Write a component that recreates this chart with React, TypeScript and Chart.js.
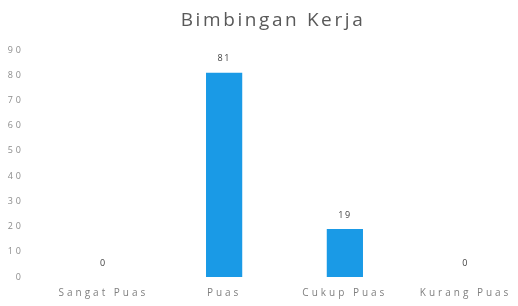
import React, { useEffect, useRef } from "react";
import { Chart, registerables } from "chart.js";

Chart.register(...registerables);

const chartTitle = "Bimbingan Kerja";
const categories = ["Sangat Puas", "Puas", "Cukup Puas", "Kurang Puas"];
const values = [0, 81, 19, 0];
const yMin = 0;
const yMax = 90;
const yStep = 10;

const titlePlugin = {
  id: "customTitle",
  beforeDraw(chart: any) {
    const ctx = chart.ctx;
    ctx.letterSpacing = "3px";
  },
  afterDraw(chart: any) {
    const ctx = chart.ctx;
    ctx.save();
    ctx.letterSpacing = "2.6px";
    ctx.font = "19px 'Open Sans'";
    ctx.fillStyle = "#595959";
    ctx.textAlign = "center";
    ctx.textBaseline = "middle";
    ctx.fillText(chartTitle, 273, 21);
    ctx.restore();
  },
};

const valueLabelPlugin = {
  id: "valueLabels",
  afterDatasetsDraw(chart: any) {
    const ctx = chart.ctx;
    const meta = chart.getDatasetMeta(0);
    const ds = chart.data.datasets[0];
    ctx.save();
    ctx.letterSpacing = "1.5px";
    ctx.font = "9px 'Open Sans'";
    ctx.fillStyle = "#404040";
    ctx.textAlign = "center";
    ctx.textBaseline = "middle";
    meta.data.forEach((bar: any, i: number) => {
      ctx.fillText(String(ds.data[i]), bar.x, bar.y - 14);
    });
    ctx.restore();
  },
};

export default function App() {
  const canvasRef = useRef<HTMLCanvasElement | null>(null);

  useEffect(() => {
    if (!canvasRef.current) return;
    const chart = new Chart(canvasRef.current, {
      type: "bar",
      data: {
        labels: categories,
        datasets: [
          {
            data: values,
            backgroundColor: "#1a9ae6",
            borderWidth: 0,
            categoryPercentage: 1,
            barPercentage: 0.3,
          },
        ],
      },
      options: {
        animation: false,
        responsive: false,
        maintainAspectRatio: false,
        layout: { padding: { top: 50, right: 4, bottom: 0, left: 0 } },
        plugins: {
          legend: { display: false },
          title: { display: false },
          tooltip: { enabled: false },
        },
        scales: {
          x: {
            grid: { display: false, drawTicks: false },
            border: { display: false },
            ticks: {
              color: "#7f7f7f",
              font: { family: "'Open Sans'", size: 10 },
              padding: 10,
              maxRotation: 0,
              autoSkip: false,
            },
            afterFit(scale: any) {
              scale.height = 29;
            },
          },
          y: {
            min: yMin,
            max: yMax,
            grid: { display: false, drawTicks: false },
            border: { display: false },
            ticks: {
              stepSize: yStep,
              color: "#8c8c8c",
              font: { family: "'Open Sans'", size: 9 },
              padding: 19,
            },
            afterFit(scale: any) {
              scale.width = 43;
            },
          },
        },
      },
      plugins: [titlePlugin, valueLabelPlugin],
    });
    return () => chart.destroy();
  }, []);

  return (
    <div
      style={{
        position: "fixed",
        left: 0,
        top: 0,
        width: 518,
        height: 306,
        overflow: "hidden",
        background: "#fff",
      }}
    >
      <canvas ref={canvasRef} width={530} height={306} style={{ display: "block" }} />
    </div>
  );
}
